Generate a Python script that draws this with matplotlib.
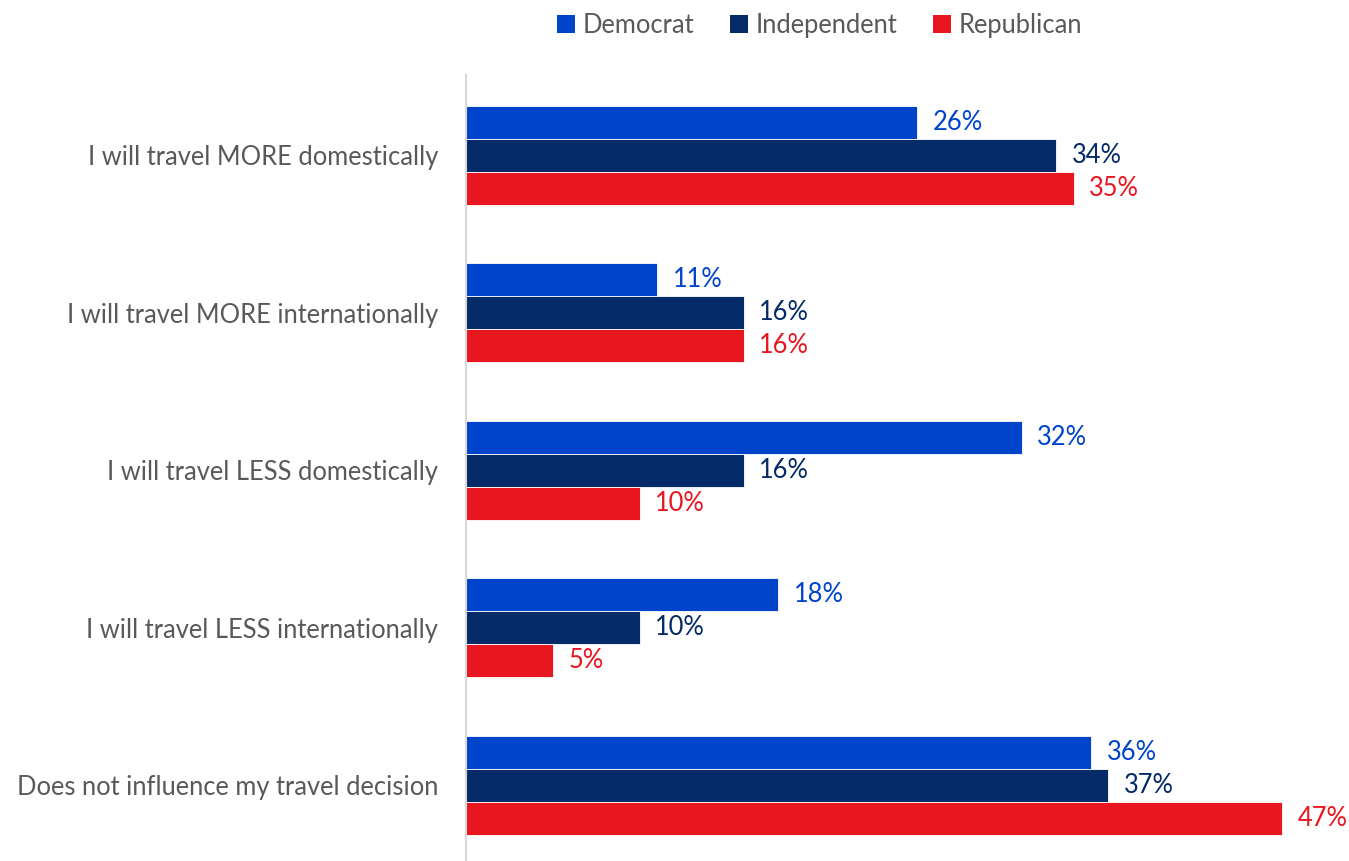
import numpy as np
import matplotlib.pyplot as plt
from matplotlib.patches import Patch

# data
categories = [
    "I will travel MORE domestically",
    "I will travel MORE internationally",
    "I will travel LESS domestically",
    "I will travel LESS internationally",
    "Does not influence my travel decision",
]
series = ["Democrat", "Independent", "Republican"]
democrat = [26, 11, 32, 18, 36]
independent = [34, 16, 16, 10, 37]
republican = [35, 16, 10, 5, 47]

colors = ["#0044CC", "#042A68", "#E8161F"]
plt.rcParams["font.family"] = ["Lato", "DejaVu Sans"]
fs = 18.4

fig = plt.figure(figsize=(13.49, 8.61), dpi=100)
ax = fig.add_axes([466 / 1349, 0.0, 868 / 1349, 786 / 861])

y = np.arange(len(categories))
h = 0.21
for k, (vals, col) in enumerate(zip([democrat, independent, republican], colors)):
    pos = y + (k - 1) * h
    ax.barh(pos, vals, height=h, color=col, edgecolor="white", linewidth=0.6)
    for p, v in zip(pos, vals):
        ax.text(v + 0.9, p, f"{v}%", va="center", ha="left",
                fontsize=fs, color=col)

ax.set_xlim(0, 50)
ax.set_ylim(4.48, -0.51)
ax.set_yticks(y)
ax.set_yticklabels(categories, fontsize=fs, color="#595959")
ax.tick_params(axis="y", length=0, pad=20)
ax.set_xticks([])
for s in ["top", "right", "bottom"]:
    ax.spines[s].set_visible(False)
ax.spines["left"].set_color("#D9D9D9")
ax.spines["left"].set_linewidth(1.5)

handles = [Patch(facecolor=c, edgecolor="none") for c in colors]
fig.legend(handles, series, loc="upper center", bbox_to_anchor=(820 / 1349, 1.012),
           ncol=3, frameon=False, fontsize=fs, labelcolor="#595959",
           handlelength=0.7, handleheight=0.7, handletextpad=0.3, columnspacing=1.4)

fig.savefig("out.png", dpi=100)
